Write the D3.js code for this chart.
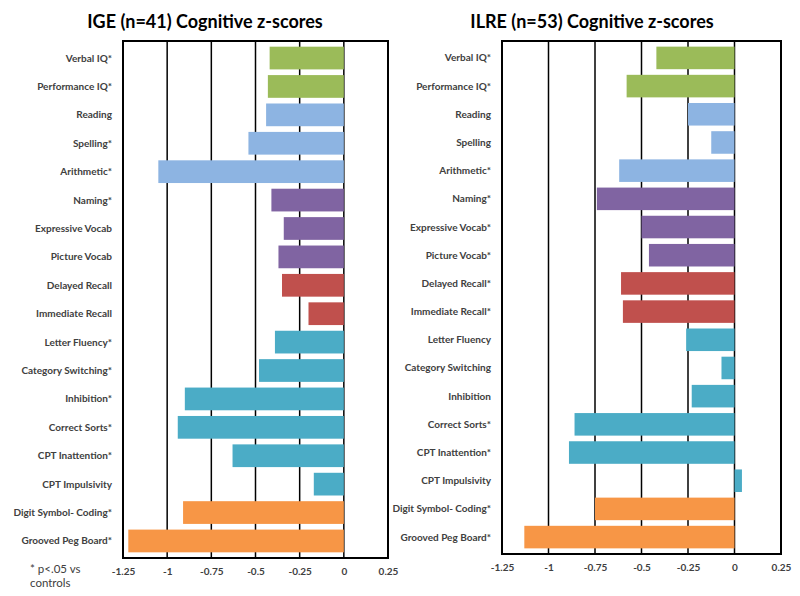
<!DOCTYPE html>
<html>
<head>
<meta charset="utf-8">
<script src="https://cdn.jsdelivr.net/npm/d3@7"></script>
<style>
  body { margin: 0; background: #fff; }
  text { font-family: Lato, "Open Sans", sans-serif; }
</style>
</head>
<body>
<svg id="chart" width="800" height="596"></svg>
<script>
const groups = ['iq', 'iq', 'lit', 'lit', 'lit', 'lang', 'lang', 'lang', 'mem', 'mem',
  'exec', 'exec', 'exec', 'exec', 'exec', 'exec', 'motor', 'motor'];

const igeLabels = ['Verbal IQ*', 'Performance IQ*', 'Reading', 'Spelling*', 'Arithmetic*',
  'Naming*', 'Expressive Vocab', 'Picture Vocab', 'Delayed Recall', 'Immediate Recall',
  'Letter Fluency*', 'Category Switching*', 'Inhibition*', 'Correct Sorts*',
  'CPT Inattention*', 'CPT Impulsivity', 'Digit Symbol- Coding*', 'Grooved Peg Board*'];
const igeValues = [-0.42, -0.43, -0.44, -0.54, -1.05, -0.41, -0.34, -0.37, -0.35, -0.20,
  -0.39, -0.48, -0.90, -0.94, -0.63, -0.17, -0.91, -1.22];

const ilreLabels = ['Verbal IQ*', 'Performance IQ*', 'Reading', 'Spelling', 'Arithmetic*',
  'Naming*', 'Expressive Vocab*', 'Picture Vocab*', 'Delayed Recall*', 'Immediate Recall*',
  'Letter Fluency', 'Category Switching', 'Inhibition', 'Correct Sorts*',
  'CPT Inattention*', 'CPT Impulsivity', 'Digit Symbol- Coding*', 'Grooved Peg Board*'];
const ilreValues = [-0.42, -0.58, -0.25, -0.125, -0.62, -0.74, -0.50, -0.46, -0.61, -0.60,
  -0.26, -0.07, -0.23, -0.86, -0.89, 0.04, -0.75, -1.13];

const tickValues = [-1.25, -1, -0.75, -0.5, -0.25, 0, 0.25];
const tickLabels = ['-1.25', '-1', '-0.75', '-0.5', '-0.25', '0', '0.25'];

const noteLines = ['* p<.05 vs', 'controls'];

const colors = {
  iq: '#9bbb59', lit: '#8db4e2', lang: '#8064a2', mem: '#c0504d',
  exec: '#4bacc6', motor: '#f79646',
};

const svg = d3.select('#chart');

const drawPanel = ({ title, titleX, labels, values, left, right, top, bottom }) => {
  const g = svg.append('g');
  const rows = labels.map((label, i) => ({ label, value: values[i], group: groups[i], i }));

  const x = d3.scaleLinear().domain([-1.25, 0.25]).range([left, right]);
  const y = d3.scaleBand().domain(d3.range(rows.length)).range([top, bottom]).padding(0.2);

  g.append('text')
    .attr('x', titleX)
    .attr('y', 28)
    .attr('text-anchor', 'middle')
    .attr('font-size', 18)
    .attr('font-weight', 'bold')
    .attr('fill', '#000')
    .text(title);

  // gridlines
  g.selectAll('.grid')
    .data(tickValues)
    .enter()
    .append('line')
    .attr('class', 'grid')
    .attr('x1', d => x(d))
    .attr('x2', d => x(d))
    .attr('y1', top)
    .attr('y2', bottom)
    .attr('stroke', '#000')
    .attr('stroke-width', 1.5);

  g.append('rect')
    .attr('x', left)
    .attr('y', top)
    .attr('width', right - left)
    .attr('height', bottom - top)
    .attr('fill', 'none')
    .attr('stroke', '#000')
    .attr('stroke-width', 2);

  g.selectAll('.bar')
    .data(rows)
    .enter()
    .append('rect')
    .attr('class', 'bar')
    .attr('x', d => x(Math.min(0, d.value)))
    .attr('width', d => Math.abs(x(d.value) - x(0)))
    .attr('y', d => y(d.i))
    .attr('height', y.bandwidth())
    .attr('fill', d => colors[d.group]);

  g.selectAll('.label')
    .data(rows)
    .enter()
    .append('text')
    .attr('class', 'label')
    .attr('x', left - 11)
    .attr('y', d => y(d.i) + y.bandwidth() / 2)
    .attr('dy', '0.35em')
    .attr('text-anchor', 'end')
    .attr('font-size', 10)
    .attr('font-weight', 'bold')
    .attr('fill', '#404040')
    .text(d => d.label);

  const axis = d3.axisBottom(x)
    .tickValues(tickValues)
    .tickFormat((d, i) => tickLabels[i])
    .tickSize(0)
    .tickPadding(10);

  const ax = g.append('g').attr('transform', `translate(0,${bottom})`).call(axis);
  ax.select('.domain').remove();
  ax.selectAll('text')
    .attr('font-family', 'Lato, sans-serif')
    .attr('font-size', 10)
    .attr('font-weight', 'bold')
    .attr('fill', '#404040');
};

drawPanel({
  title: 'IGE (n=41) Cognitive z-scores', titleX: 205,
  labels: igeLabels, values: igeValues,
  left: 123, right: 388, top: 41, bottom: 558,
});

drawPanel({
  title: 'ILRE (n=53) Cognitive z-scores', titleX: 592,
  labels: ilreLabels, values: ilreValues,
  left: 502, right: 781, top: 41, bottom: 554,
});

// footnote
svg.selectAll('.note')
  .data(noteLines)
  .enter()
  .append('text')
  .attr('class', 'note')
  .attr('x', 30)
  .attr('y', (d, i) => 573 + i * 14)
  .attr('font-size', 11.5)
  .attr('fill', '#404040')
  .text(d => d);
</script>
</body>
</html>
